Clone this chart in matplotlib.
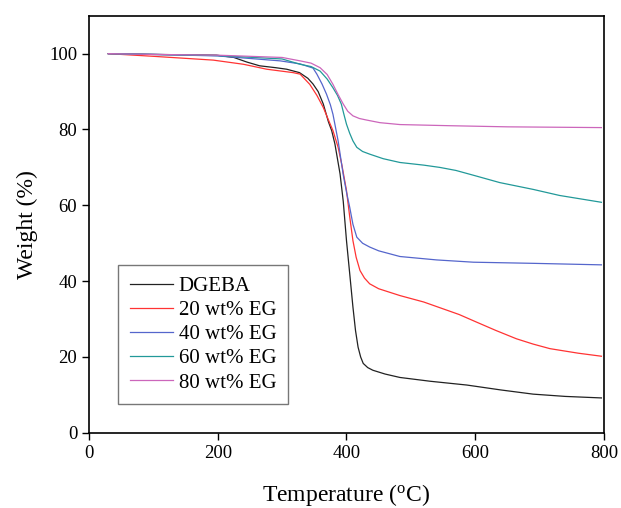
import numpy as np
import matplotlib
matplotlib.use('Agg')
import matplotlib.pyplot as plt

plt.rcParams['font.family'] = ['Liberation Serif', 'DejaVu Serif']
plt.rcParams['mathtext.fontset'] = 'custom'
plt.rcParams['mathtext.rm'] = 'Liberation Serif'

# TGA curves: temperature (C), weight (%)
dgeba_t = [30, 100, 198, 225, 245, 265, 290, 307, 327, 340, 348, 356, 364, 372, 377, 382, 390, 395, 400,
           405, 410, 414, 418, 422, 426, 433, 441, 460, 483, 530, 587, 640, 690, 740, 796]
dgeba_w = [100, 99.8, 99.6, 99.0, 97.8, 96.8, 96.3, 95.9, 95.0, 93.5, 92.0, 90.0, 86.7, 82.0, 79.7, 76.2, 68.3, 61.0, 50.7,
           42.0, 33.2, 27.0, 22.6, 20.0, 18.3, 17.2, 16.5, 15.5, 14.6, 13.6, 12.6, 11.3, 10.2, 9.6, 9.2]

eg20_t = [30, 100, 193, 240, 276, 317, 328, 343, 354, 364, 372, 379, 387, 393, 400, 405, 410, 415, 421, 428,
          436, 450, 483, 520, 550, 575, 602, 632, 664, 690, 716, 760, 796]
eg20_w = [100, 99.3, 98.3, 97.2, 95.9, 95.0, 94.6, 91.9, 89.0, 85.8, 82.5, 79.7, 75.3, 70.5, 63.9, 57.0, 50.7, 46.3, 42.8, 40.8,
          39.3, 38.0, 36.2, 34.5, 32.7, 31.2, 29.2, 27.0, 24.8, 23.4, 22.2, 21.0, 20.2]

eg40_t = [30, 100, 200, 297, 328, 348, 354, 362, 369, 375, 379, 383, 387, 395, 400, 405, 410, 416, 425,
          436, 450, 483, 540, 597, 690, 796]
eg40_w = [100, 99.8, 99.4, 98.1, 97.3, 96.2, 94.6, 92.0, 89.3, 86.5, 84.0, 80.5, 77.0, 68.0, 63.5, 59.5, 55.0, 51.6, 50.0,
          49.0, 48.0, 46.5, 45.6, 45.0, 44.7, 44.3]

eg60_t = [30, 100, 200, 300, 328, 345, 359, 370, 379, 386, 392, 396, 400, 405, 410, 416, 425, 436, 457,
          483, 520, 545, 570, 600, 638, 690, 731, 796]
eg60_w = [100, 99.8, 99.5, 98.6, 97.2, 96.6, 95.4, 93.3, 91.0, 89.0, 86.7, 84.0, 81.4, 79.0, 77.0, 75.3, 74.2, 73.5, 72.3,
          71.3, 70.6, 70.0, 69.2, 67.8, 66.0, 64.2, 62.6, 60.8]

eg80_t = [30, 100, 200, 300, 328, 345, 359, 370, 379, 387, 395, 402, 410, 420, 431, 452, 483, 560, 650, 796]
eg80_w = [100, 99.8, 99.6, 99.0, 98.1, 97.5, 96.3, 94.5, 91.9, 89.2, 86.7, 84.8, 83.6, 82.9, 82.5, 81.8, 81.3, 81.0, 80.7, 80.5]

series = [
    (dgeba_t, dgeba_w, 'DGEBA', '#222222'),
    (eg20_t, eg20_w, '20 wt% EG', '#ff3333'),
    (eg40_t, eg40_w, '40 wt% EG', '#5566cc'),
    (eg60_t, eg60_w, '60 wt% EG', '#229999'),
    (eg80_t, eg80_w, '80 wt% EG', '#cc66bb'),
]

fig = plt.figure(figsize=(6.21, 5.08), dpi=100)
ax = fig.add_axes([0.1433, 0.148, 0.8293, 0.821])

for t, w, label, color in series:
    ax.plot(t, w, color=color, linewidth=0.9, label=label)

ax.set_xlim(0, 800)
ax.set_ylim(0, 110)
ax.set_xticks([0, 200, 400, 600, 800])
ax.set_yticks([0, 20, 40, 60, 80, 100])
ax.tick_params(direction='out', length=5, width=1, labelsize=13.5)
for s in ax.spines.values():
    s.set_linewidth(1.2)

ax.set_xlabel(r'Temperature ($\mathregular{^o}$C)', fontsize=17, labelpad=15)
ax.set_ylabel('Weight (%)', fontsize=17, labelpad=8)

leg = ax.legend(loc='lower left', bbox_to_anchor=(0.057, 0.069), borderaxespad=0,
                fontsize=15, fancybox=False, edgecolor='#555555', handlelength=2.05,
                handletextpad=0.3, labelspacing=0.22, borderpad=0.55)
leg.get_frame().set_linewidth(1.0)

fig.savefig('out.png', dpi=100)
